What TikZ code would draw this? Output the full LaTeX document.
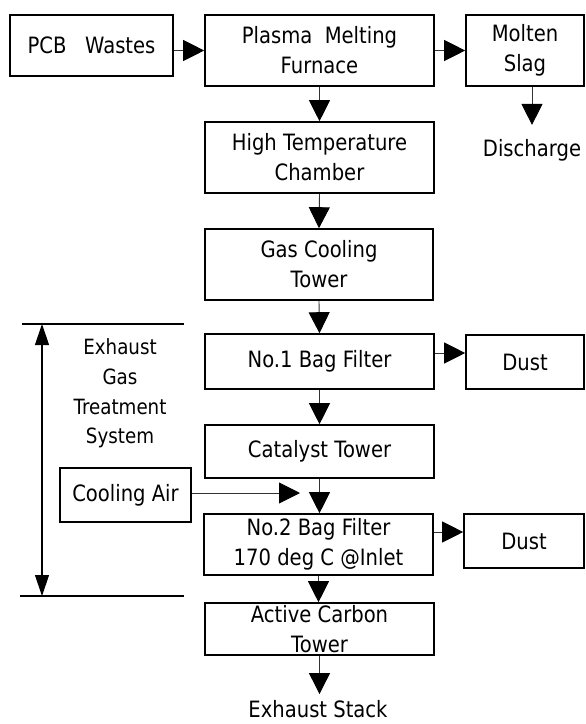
\documentclass[tikz,border=0pt]{standalone}
\usepackage{fontspec}
\setmainfont{DejaVu Sans}[FakeStretch=0.87]
\usetikzlibrary{arrows.meta}
\begin{document}
\begin{tikzpicture}[x=1pt,y=-1pt,
  box/.style={draw=black,line width=1.6pt,align=center,inner sep=0pt,
    font=\fontsize{22.5}{30}\selectfont},
  lbl/.style={align=center,inner sep=0pt,font=\fontsize{22.5}{30}\selectfont},
  etslbl/.style={align=center,inner sep=0pt,font=\fontsize{21}{29.7}\selectfont},
  flow/.style={draw=black!80,line width=0.9pt,-{Triangle[length=21pt,width=21pt,color=black]}},
  brk/.style={draw=black,line width=1.2pt},
  dbl/.style={draw=black,line width=1.2pt,{Triangle[length=21pt,width=14pt]}-{Triangle[length=21pt,width=14pt]}}]
\fill[white] (0,0) rectangle (586,724);
\useasboundingbox (0,0) rectangle (586,724);
\node[box,minimum width=163pt,minimum height=61pt] (pcb) at (91.5,45.5) {PCB~~~Wastes};
\node[box,minimum width=229pt,minimum height=71pt] (plasma) at (319.5,50.5) {Plasma~ Melting\\Furnace};
\node[box,minimum width=118pt,minimum height=71pt] (slag) at (525,50.5) {Molten\\Slag};
\node[lbl] (discharge) at (532,150) {Discharge};
\node[box,minimum width=229pt,minimum height=71pt] (htc) at (319.5,157.5) {High Temperature\\Chamber};
\node[box,minimum width=228pt,minimum height=71pt] (gct) at (319,264.5) {Gas Cooling\\Tower};
\node[box,minimum width=229pt,minimum height=55pt] (bf1) at (319.5,361.5) {No.1 Bag Filter};
\node[box,minimum width=118pt,minimum height=54pt] (dust1) at (525,362) {Dust};
\node[box,minimum width=229pt,minimum height=53pt] (cat) at (319.5,451.5) {Catalyst Tower};
\node[box,minimum width=131pt,minimum height=54pt] (air) at (125.5,495) {Cooling Air};
\node[box,minimum width=229pt,minimum height=61pt] (bf2) at (318.5,544.5) {No.2 Bag Filter\\170 deg C @Inlet};
\node[box,minimum width=120pt,minimum height=54pt] (dust2) at (524,541) {Dust};
\node[box,minimum width=229pt,minimum height=52pt] (act) at (319.5,629) {Active Carbon\\Tower};
\node[lbl] (stack) at (318,709) {Exhaust Stack};
\node[etslbl] (ets) at (120,393.5) {Exhaust\\Gas\\Treatment\\System};
\coordinate (airend) at (300,493);
\coordinate (tl) at (22,324);
\coordinate (tr) at (184,324);
\coordinate (bl) at (20,596);
\coordinate (br) at (184,596);
\coordinate (at) at (42,324);
\coordinate (ab) at (42,596);
% connectors
\draw[flow] (pcb.east |- plasma.west) -- (plasma.west);
\draw[flow] (plasma.east) -- (slag.west);
\draw[flow,shorten >=14pt] (slag.south -| discharge.north) -- (discharge.north);
\draw[flow] (plasma.south) -- (htc.north);
\draw[flow] (htc.south) -- (gct.north);
\draw[flow] (gct.south) -- (bf1.north);
\draw[flow] ([yshift=8.5pt]bf1.east) -- ([yshift=8.5pt]bf1.east -| dust1.west);
\draw[flow] (bf1.south) -- (cat.north);
\draw[flow] (air.east |- airend) -- (airend);
\draw[flow] (cat.south) -- (cat.south |- bf2.north);
\draw[flow] ([yshift=12.5pt]bf2.east) -- ([yshift=12.5pt]bf2.east -| dust2.west);
\draw[flow] (bf2.south) -- (bf2.south |- act.north);
\draw[flow,shorten >=6pt] (act.south) -- (act.south |- stack.north);
% bracket
\draw[brk] (tl) -- (tr);
\draw[brk] (bl) -- (br);
\draw[dbl] (at) -- (ab);
\end{tikzpicture}
\end{document}
